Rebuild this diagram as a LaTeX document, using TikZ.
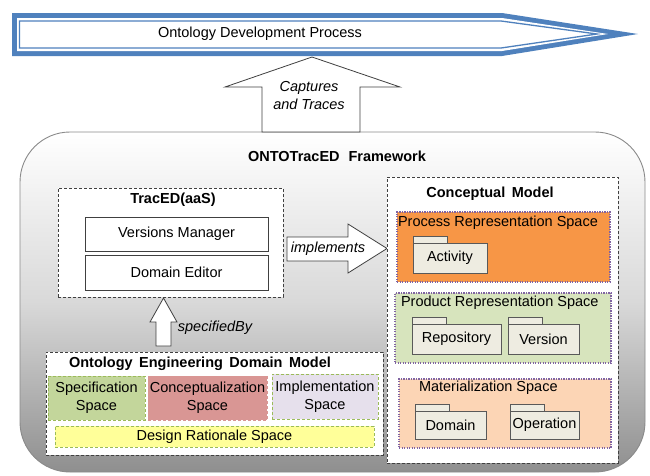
\documentclass[tikz,border=0pt]{standalone}
\usepackage{fontspec}
\setmainfont{Liberation Sans}
\usetikzlibrary{positioning}

\definecolor{procblue}{HTML}{4F81BD}
\definecolor{framegray}{HTML}{8A8A8A}
\definecolor{boxline}{HTML}{404040}
\definecolor{procorange}{HTML}{F79646}
\definecolor{prodgreen}{HTML}{D7E4BD}
\definecolor{matpeach}{HTML}{FCD5B5}
\definecolor{pkgfill}{HTML}{EEECE1}
\definecolor{specgreen}{HTML}{C3D69B}
\definecolor{conrose}{HTML}{D99694}
\definecolor{implilac}{HTML}{E6E0EC}
\definecolor{ratyellow}{HTML}{FFFF99}
\definecolor{dotpurple}{HTML}{8064A2}
\definecolor{dashgreen}{HTML}{9BBB59}

% UML-style package: tab plus body, named by #1
\newcommand\umlpkg[6]{%
  \draw[pkgline] (#2,#3) rectangle ({#2+34},{#3+7});
  \node[pkgline, anchor=north west, minimum width={#4-#2}, minimum height={#5-#3-7}] (#1) at (#2,{#3+7}) {#6};
}

\begin{document}
\begin{tikzpicture}[x=1pt, y=-1pt,
  font=\fontsize{14.5}{18}\selectfont,
  every node/.style={inner sep=0pt, outer sep=0pt},
  dashbox/.style={draw=boxline, fill=white, line width=0.8pt, dash pattern=on 3pt off 2pt},
  plainbox/.style={draw=boxline, fill=white, line width=0.8pt},
  dotbox/.style={draw=dotpurple, line width=1.3pt, dash pattern=on 1.2pt off 1.3pt},
  spacebox/.style={draw=dashgreen, line width=0.8pt, dash pattern=on 3pt off 2pt},
  pkgline/.style={draw=black!65, fill=pkgfill, line width=0.8pt},
  blockarrow/.style={draw=black!75, fill=white, line width=0.8pt, line join=miter},
  title/.style={font=\fontsize{14.5}{18}\selectfont\bfseries},
  itext/.style={font=\fontsize{14.5}{18}\selectfont\itshape},
  corner/.style={anchor=north west}]
\useasboundingbox (0,0) rectangle (650,475);

% ---- process arrow at the top ----
\fill[procblue] (12,13) -- (502,13) -- (638,34) -- (502,56) -- (12,56) -- cycle;
\fill[white] (17,18) -- (502,18) -- (608,34) -- (502,51) -- (17,51) -- cycle;
\draw[procblue, line width=1.3pt, line join=miter] (19.5,21) -- (501,21) -- (597,34) -- (501,48) -- (19.5,48) -- cycle;
\node (process) at (260,34) {Ontology Development Process};

% ---- framework frame ----
\shade[top color=white, bottom color=black!44, middle color=black!15, draw=framegray, line width=0.9pt, rounded corners=50pt]
  (20,132) rectangle (645,472);
\node[title] (framework) at (337,156) {ONTOTracED\,\, Framework};

% ---- captures arrow ----
\coordinate (capbase) at (311,132);
\draw[blockarrow] (262,132) -- (262,87) -- (225,87) -- (312,57) -- (400,87) -- (360,87) -- (360,132) -- cycle;
\node[itext, align=center] (captures) at (309,96) {Captures\\and Traces};

% ---- TracED(aaS) ----
\node[dashbox, corner, minimum width=225pt, minimum height=109pt] (traced) at (58,188) {};
\node[title] (tracedtitle) at (173,200) {TracED(aaS)};
\node[plainbox, corner, minimum width=183pt, minimum height=34pt] (versions) at (85,217) {Versions Manager};
\node[plainbox, corner, minimum width=183pt, minimum height=35pt] (editor) at (85,255) {Domain Editor};

% ---- implements arrow ----
\draw[blockarrow] (287,237) -- (348,237) -- (348,224) -- (387,248.5) -- (348,273) -- (348,261) -- (287,261) -- cycle;
\node[itext] (implements) at (328,249) {implements};

% ---- specifiedBy arrow ----
\draw[blockarrow] (156,346) -- (156,322) -- (150,322) -- (163.5,298) -- (177,322) -- (171,322) -- (171,346) -- cycle;
\node[itext] (specified) at (215,328) {specifiedBy};

% ---- Ontology Engineering Domain Model ----
\node[dashbox, corner, minimum width=337pt, minimum height=103pt] (oedm) at (46,352) {};
\node[title] (oedmtitle) at (200,364) {Ontology\, Engineering\, Domain\, Model};
\node[spacebox, fill=specgreen, corner, minimum width=97pt, minimum height=44pt] (spec) at (48,376) {};
\node[align=center] at (spec.center) {Specification\\Space};
\node[spacebox, draw=conrose, fill=conrose, corner, minimum width=119pt, minimum height=44pt] (concept) at (148,376) {};
\node[align=center] at (concept.center) {Conceptualization\\Space};
\node[spacebox, fill=implilac, corner, minimum width=106pt, minimum height=45pt] (impl) at (272,374) {};
\node[align=center] at (impl.center) {Implementation\\Space};
\node[spacebox, fill=ratyellow, corner, minimum width=319pt, minimum height=21pt] (rationale) at (55,426) {};
\node at (rationale.center) {Design Rationale Space};

% ---- Conceptual Model ----
\node[dashbox, corner, minimum width=231pt, minimum height=286pt] (cm) at (387,177) {};
\node[title] (cmtitle) at (490,194) {Conceptual\, Model};

\node[dotbox, fill=procorange, corner, minimum width=213pt, minimum height=70pt] (procspace) at (397,212) {};
\node[anchor=west] (proclabel) at (398,223) {Process Representation Space};
\umlpkg{activity}{413}{236}{487}{273}{Activity}

\node[dotbox, fill=prodgreen, corner, minimum width=216pt, minimum height=70pt] (prodspace) at (395,293) {};
\node[anchor=west] (prodlabel) at (401,303) {Product Representation Space};
\umlpkg{repository}{412}{317}{501}{354}{Repository}
\umlpkg{version}{508}{317}{579}{354}{Version}

\node[dotbox, fill=matpeach, corner, minimum width=212pt, minimum height=69pt] (matspace) at (399,379) {};
\node[anchor=west] (matlabel) at (419,388) {Materialization Space};
\umlpkg{domain}{415}{404}{486}{439}{Domain}
\umlpkg{operation}{510}{404}{579}{439}{Operation}
\end{tikzpicture}
\end{document}
